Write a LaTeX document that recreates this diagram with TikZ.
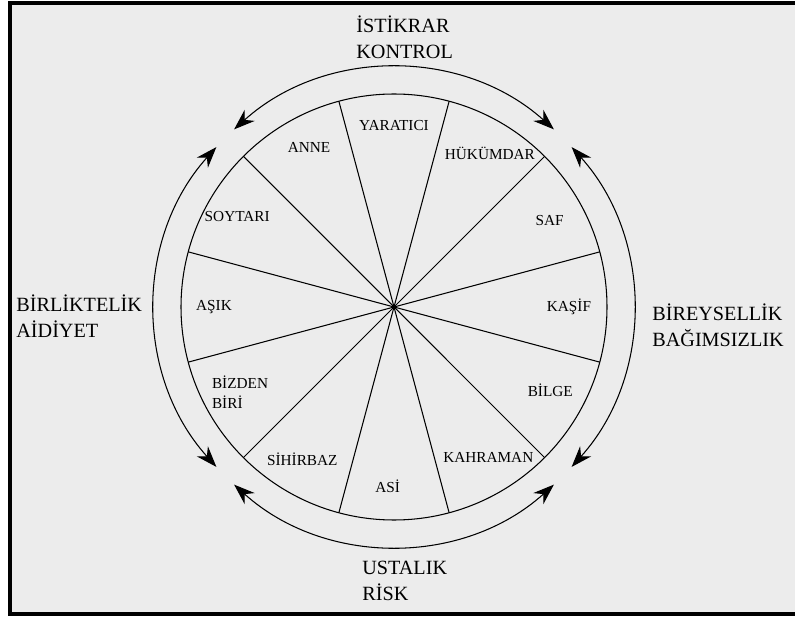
\documentclass[tikz,border=0pt]{standalone}
\usepackage{fontspec}
\setmainfont{Liberation Serif}
\usepackage{tikz}
\usetikzlibrary{arrows.meta, calc}
\usepackage{xcolor}
\definecolor{wheelbg}{HTML}{ECECEC}

\begin{document}
\begin{tikzpicture}[
    x=0.02cm, y=0.02cm,
    lbl/.style={inner sep=0pt, font=\fontsize{8.7}{11}\selectfont},
    axis/.style={inner sep=0pt, align=left, anchor=west,
                 font=\fontsize{11.5}{15}\selectfont},
    arr/.style={{Stealth[length=0.42cm, width=0.3cm]}-{Stealth[length=0.42cm, width=0.3cm]},
                line width=0.6pt}
  ]
    \useasboundingbox (0,0) rectangle (795,616);
    \fill[wheelbg] (8,0) rectangle (795,615);
    \draw[line width=0.08cm] (800,613) -- (10,613) -- (10,2) -- (800,2);

    % Wheel
    \coordinate (c) at (394,309);
    \draw[line width=0.6pt] (c) circle[radius=213];
    \foreach \a in {15,45,...,345}
      \draw[line width=0.6pt] (c) -- ($(c)+(\a:213)$);
    \fill (c) circle[radius=2.2];

    % Archetypes
    \foreach \a/\r/\n/\t in {90/181/yaratici/YARATICI, 58/181/hukumdar/HÜKÜMDAR,
        29/178/saf/SAF, 0/175/kasif/KAŞİF, -28/177/bilge/BİLGE,
        -58/178/kahraman/KAHRAMAN, -92/179/asi/ASİ, -121/178/sihirbaz/SİHİRBAZ,
        180/180/asik/AŞIK, 150/181/soytari/SOYTARI, 118/181/anne/ANNE}
      \node[lbl] (\n) at ($(c)+(\a:\r)$) {\t};
    \node[lbl, align=left] (bizden) at ($(c)+(-151:176)$) {BİZDEN\\BİRİ};

    % Outer arcs
    \draw[arr] ($(c)+(48:239)$) arc[start angle=48, end angle=132, radius=239];
    \draw[arr] ($(c)+(138:239)$) arc[start angle=138, end angle=222, radius=239];
    \draw[arr] ($(c)+(228:239)$) arc[start angle=228, end angle=312, radius=239];
    \draw[arr] ($(c)+(318:239)$) arc[start angle=318, end angle=402, radius=239];

    % Axes
    \node[axis] (top) at (356,579) {İSTİKRAR\\KONTROL};
    \node[axis] (left) at (16,300) {BİRLİKTELİK\\AİDİYET};
    \node[axis] (right) at (652,291) {BİREYSELLİK\\BAĞIMSIZLIK};
    \node[axis] (bottom) at (362,35) {USTALIK\\RİSK};
\end{tikzpicture}
\end{document}
